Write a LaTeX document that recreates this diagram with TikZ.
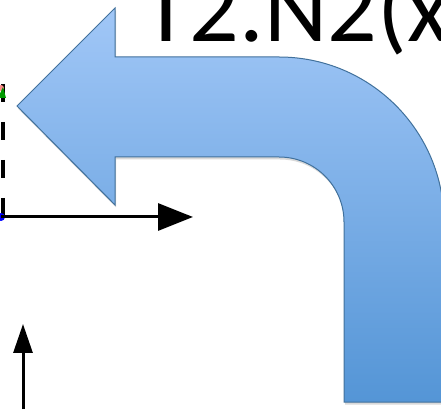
\documentclass[tikz,border=0pt]{standalone}
\usepackage{fontspec}
\setmainfont{Carlito}
\usetikzlibrary{arrows.meta,shadows}

\definecolor{bendtop}{RGB}{161,199,247}
\definecolor{bendbottom}{RGB}{84,149,214}
\definecolor{bendline}{RGB}{65,113,156}

\tikzset{
  bentarrow/.style={draw=bendline, line width=1pt, top color=bendtop, bottom color=bendbottom,
    drop shadow={shadow xshift=1pt, shadow yshift=-2.5pt, opacity=0.3}},
}

\begin{document}
\begin{tikzpicture}[x=1pt, y=1pt]
  \useasboundingbox (0,0) rectangle (441,409);

  \node[anchor=base west, inner sep=0pt, font=\fontsize{98}{100}\selectfont] (title) at (142,367) {T2.N2(x};

  \coordinate (G) at (3,325);
  \coordinate (B) at (1,192);
  \coordinate (E) at (193,192);
  \coordinate (S) at (23,0);
  \coordinate (U) at (23,85);

  \draw[line width=4pt, dash pattern=on 18pt off 20pt] (G) -- (3,193);
  \fill[red!45] (1,321) circle (3);
  \fill[green!60!black] (-2,311) -- (3,322) -- (6,311) -- cycle;
  \fill[blue] (B) circle (4);

  \draw[line width=3pt, -{Triangle[length=35pt, width=27pt]}] (B) -- (E);
  \draw[line width=3pt, -{Triangle[length=29pt, width=19pt]}] (S) -- (U);

  \path[bentarrow] (17,303) -- (115,401) -- (115,352) -- (279,352)
    arc[start angle=90, end angle=0, radius=165] -- (444,7) -- (344,7) -- (344,187)
    arc[start angle=0, end angle=90, radius=65] -- (115,252) -- (115,204) -- cycle;
\end{tikzpicture}
\end{document}
